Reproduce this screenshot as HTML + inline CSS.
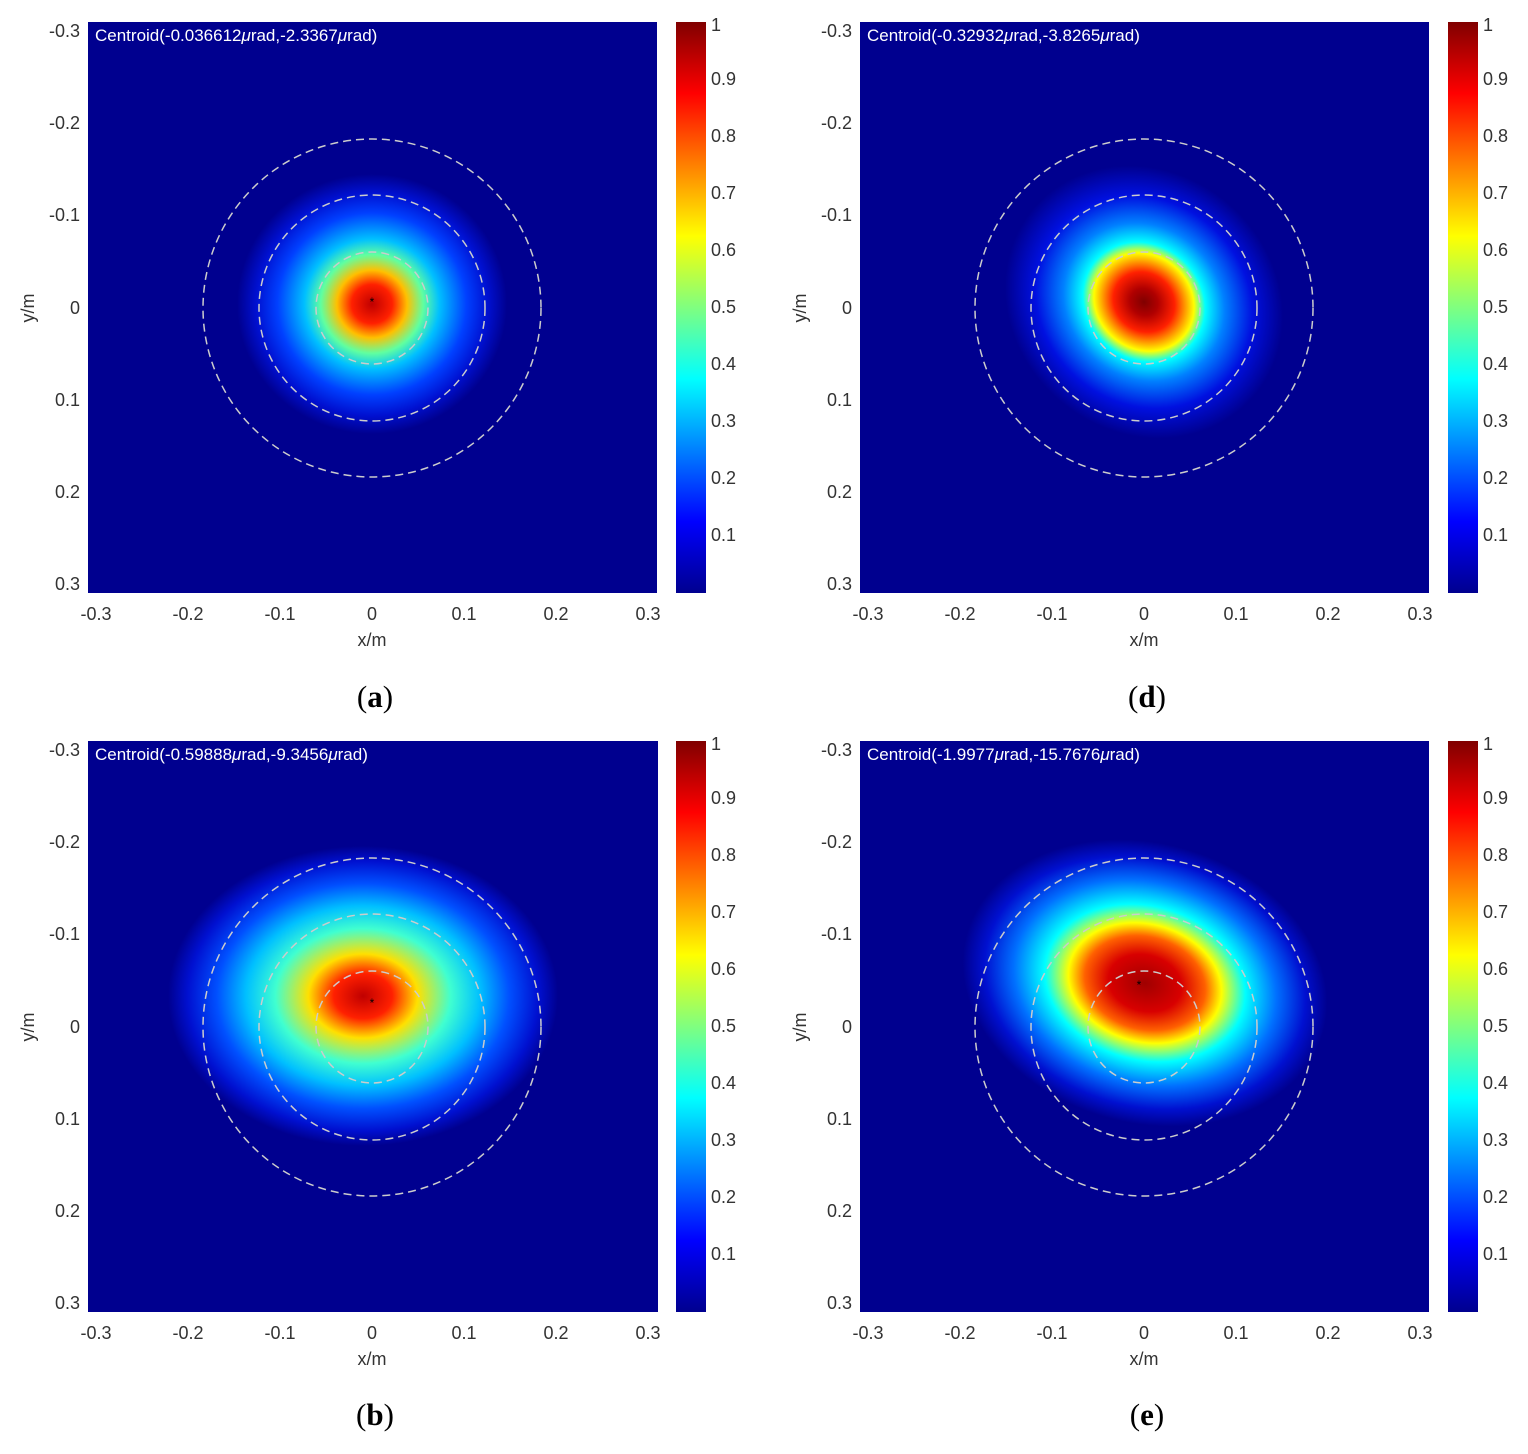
<!DOCTYPE html>
<html><head><meta charset="utf-8"><style>
body{margin:0;background:#fff;}
svg{display:block;font-family:"Liberation Sans",sans-serif;}
.t{font-size:18px;fill:#333;}
.c{fill:none;stroke:#ccc;stroke-width:1.5;stroke-dasharray:8 5;}
.lab{font-family:"Liberation Serif",serif;font-size:31px;fill:#000;}
</style></head><body>
<svg width="1528" height="1454" viewBox="0 0 1528 1454">
<defs>
<linearGradient id="cb" x1="0" y1="1" x2="0" y2="0">
<stop offset="0" stop-color="#00008F"/><stop offset="0.125" stop-color="#0000FF"/>
<stop offset="0.375" stop-color="#00FFFF"/><stop offset="0.625" stop-color="#FFFF00"/>
<stop offset="0.875" stop-color="#FF0000"/><stop offset="1" stop-color="#800000"/>
</linearGradient>
<radialGradient id="ga" gradientUnits="userSpaceOnUse" cx="0" cy="0" r="1" gradientTransform="translate(284,282) scale(135,130)">
<stop offset="0" stop-color="#c00000"/><stop offset="0.15" stop-color="#ff2000"/>
<stop offset="0.26" stop-color="#ffc000"/><stop offset="0.38" stop-color="#60ffa0"/>
<stop offset="0.5" stop-color="#00c0ff"/><stop offset="0.7" stop-color="#0040ff"/>
<stop offset="0.86" stop-color="#0010d0"/><stop offset="1" stop-color="#00008F"/></radialGradient>
<radialGradient id="gb" gradientUnits="userSpaceOnUse" cx="0" cy="0" r="1" gradientTransform="translate(275,255) scale(195,150)">
<stop offset="0" stop-color="#c00000"/><stop offset="0.15" stop-color="#ff2000"/>
<stop offset="0.28" stop-color="#ffe000"/><stop offset="0.45" stop-color="#40ffd0"/>
<stop offset="0.6" stop-color="#00c0ff"/><stop offset="0.75" stop-color="#0050ff"/>
<stop offset="0.9" stop-color="#0010d0"/><stop offset="1" stop-color="#00008F"/></radialGradient>
<radialGradient id="gd" gradientUnits="userSpaceOnUse" cx="0" cy="0" r="1" gradientTransform="translate(284,280) rotate(40) scale(145,130)">
<stop offset="0" stop-color="#800000"/><stop offset="0.1" stop-color="#b00000"/>
<stop offset="0.22" stop-color="#ff2000"/><stop offset="0.3" stop-color="#ffa000"/>
<stop offset="0.36" stop-color="#ffff00"/><stop offset="0.44" stop-color="#00ffff"/>
<stop offset="0.58" stop-color="#0080ff"/><stop offset="0.78" stop-color="#0010e0"/>
<stop offset="1" stop-color="#00008F"/></radialGradient>
<radialGradient id="ge" gradientUnits="userSpaceOnUse" cx="0" cy="0" r="1" gradientTransform="translate(285,242) rotate(15) scale(185,140)">
<stop offset="0" stop-color="#a00000"/><stop offset="0.2" stop-color="#d80000"/>
<stop offset="0.33" stop-color="#ff6000"/><stop offset="0.42" stop-color="#ffff00"/>
<stop offset="0.55" stop-color="#00ffff"/><stop offset="0.72" stop-color="#0070ff"/>
<stop offset="0.88" stop-color="#0010d0"/><stop offset="1" stop-color="#00008F"/></radialGradient>
<g id="ax">
<text class="t" x="8" y="598" text-anchor="middle">-0.3</text>
<text class="t" x="100" y="598" text-anchor="middle">-0.2</text>
<text class="t" x="192" y="598" text-anchor="middle">-0.1</text>
<text class="t" x="284" y="598" text-anchor="middle">0</text>
<text class="t" x="376" y="598" text-anchor="middle">0.1</text>
<text class="t" x="468" y="598" text-anchor="middle">0.2</text>
<text class="t" x="560" y="598" text-anchor="middle">0.3</text>
<text class="t" x="284" y="624" text-anchor="middle">x/m</text>
<text class="t" x="-8" y="15" text-anchor="end">-0.3</text>
<text class="t" x="-8" y="107" text-anchor="end">-0.2</text>
<text class="t" x="-8" y="199" text-anchor="end">-0.1</text>
<text class="t" x="-8" y="292" text-anchor="end">0</text>
<text class="t" x="-8" y="384" text-anchor="end">0.1</text>
<text class="t" x="-8" y="476" text-anchor="end">0.2</text>
<text class="t" x="-8" y="568" text-anchor="end">0.3</text>
<text class="t" transform="translate(-54,286) rotate(-90)" text-anchor="middle">y/m</text>
<rect x="588" y="0" width="30" height="571" fill="url(#cb)"/>
<text class="t" x="623" y="9">1</text>
<text class="t" x="623" y="63">0.9</text>
<text class="t" x="623" y="120">0.8</text>
<text class="t" x="623" y="177">0.7</text>
<text class="t" x="623" y="234">0.6</text>
<text class="t" x="623" y="291">0.5</text>
<text class="t" x="623" y="348">0.4</text>
<text class="t" x="623" y="405">0.3</text>
<text class="t" x="623" y="462">0.2</text>
<text class="t" x="623" y="519">0.1</text>
</g>
<g id="circ">
<circle class="c" cx="284" cy="286" r="169"/>
<circle class="c" cx="284" cy="286" r="113"/>
<circle class="c" cx="284" cy="286" r="56"/>
</g>
</defs>

<g transform="translate(88,22)">
<rect width="569" height="571" fill="#00008F"/>
<rect width="569" height="571" fill="url(#ga)"/>
<use href="#circ"/><use href="#ax"/>
<text x="7" y="19" fill="#fff" font-size="17">Centroid(-0.036612<tspan font-style="italic">μ</tspan>rad,-2.3367<tspan font-style="italic">μ</tspan>rad)</text>
<text x="284" y="284" text-anchor="middle" font-size="12">*</text>
</g>
<g transform="translate(860,22)">
<rect width="569" height="571" fill="#00008F"/>
<rect width="569" height="571" fill="url(#gd)"/>
<use href="#circ"/><use href="#ax"/>
<text x="7" y="19" fill="#fff" font-size="17">Centroid(-0.32932<tspan font-style="italic">μ</tspan>rad,-3.8265<tspan font-style="italic">μ</tspan>rad)</text>
</g>
<g transform="translate(88,741)">
<rect width="570" height="571" fill="#00008F"/>
<rect width="570" height="571" fill="url(#gb)"/>
<use href="#circ"/><use href="#ax"/>
<text x="7" y="19" fill="#fff" font-size="17">Centroid(-0.59888<tspan font-style="italic">μ</tspan>rad,-9.3456<tspan font-style="italic">μ</tspan>rad)</text>
<text x="284" y="266" text-anchor="middle" font-size="12">*</text>
</g>
<g transform="translate(860,741)">
<rect width="569" height="571" fill="#00008F"/>
<rect width="569" height="571" fill="url(#ge)"/>
<use href="#circ"/><use href="#ax"/>
<text x="7" y="19" fill="#fff" font-size="17">Centroid(-1.9977<tspan font-style="italic">μ</tspan>rad,-15.7676<tspan font-style="italic">μ</tspan>rad)</text>
<text x="279" y="248" text-anchor="middle" font-size="12">*</text>
</g>

<text class="lab" x="375" y="707" text-anchor="middle">(<tspan font-weight="bold">a</tspan>)</text>
<text class="lab" x="1147" y="707" text-anchor="middle">(<tspan font-weight="bold">d</tspan>)</text>
<text class="lab" x="375" y="1425" text-anchor="middle">(<tspan font-weight="bold">b</tspan>)</text>
<text class="lab" x="1147" y="1425" text-anchor="middle">(<tspan font-weight="bold">e</tspan>)</text>
</svg>
</body></html>
